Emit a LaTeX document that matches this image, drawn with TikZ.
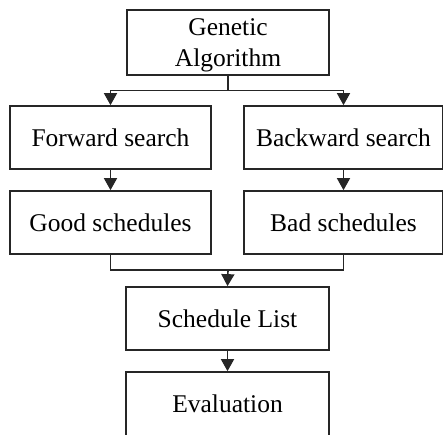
\documentclass[tikz,border=0pt]{standalone}
\usepackage{fontspec}
\setmainfont{Liberation Serif}
\usetikzlibrary{arrows.meta}
\begin{document}
\begin{tikzpicture}[x=1pt,y=-1pt,
  box/.style={draw=black!85,line width=1.7pt,minimum width=201pt,minimum height=63pt,inner sep=0pt},
  lbl/.style={font=\fontsize{25.5}{31}\selectfont,align=center,inner sep=0pt},
  conn/.style={draw=black!85,line width=1.6pt},
  arr/.style={conn,-{Triangle[length=12pt,width=13pt]}}]
\fill[white] (0,0) rectangle (443,434);
\clip (0,0) rectangle (443,434);
\useasboundingbox (0,0) rectangle (443,434);
\node[box,minimum width=202pt,minimum height=65pt] (ga) at (228,42.5) {};
\node[lbl] (gat) at (228,45.5) {Genetic\\Algorithm};
\node[box,lbl] (fs) at (110.5,137.5) {Forward search};
\node[box,lbl,minimum width=199pt] (bs) at (343.5,137.5) {Backward search};
\node[box,lbl] (gs) at (110.5,222.5) {Good schedules};
\node[box,lbl,minimum width=199pt] (bd) at (343.5,222.5) {Bad schedules};
\node[box,lbl,minimum width=203pt] (sl) at (227.5,318.5) {Schedule List};
\node[box,minimum width=203pt,minimum height=76pt] (ev) at (227.5,410) {};
\node[lbl] (evt) at (227.5,404) {Evaluation};
\coordinate (split) at (228,90.5);
\coordinate (merge) at (228,270);
\draw[conn] (ga.south) -- (split);
\draw[arr] (split) -| (fs.north);
\draw[arr] (split) -| (bs.north);
\draw[arr] (fs) -- (gs);
\draw[arr] (bs) -- (bd);
\draw[conn] (gs.south) |- (merge);
\draw[conn] (bd.south) |- (merge);
\draw[arr] (merge) -- (sl.north);
\draw[arr] (sl) -- (ev);
\end{tikzpicture}
\end{document}
